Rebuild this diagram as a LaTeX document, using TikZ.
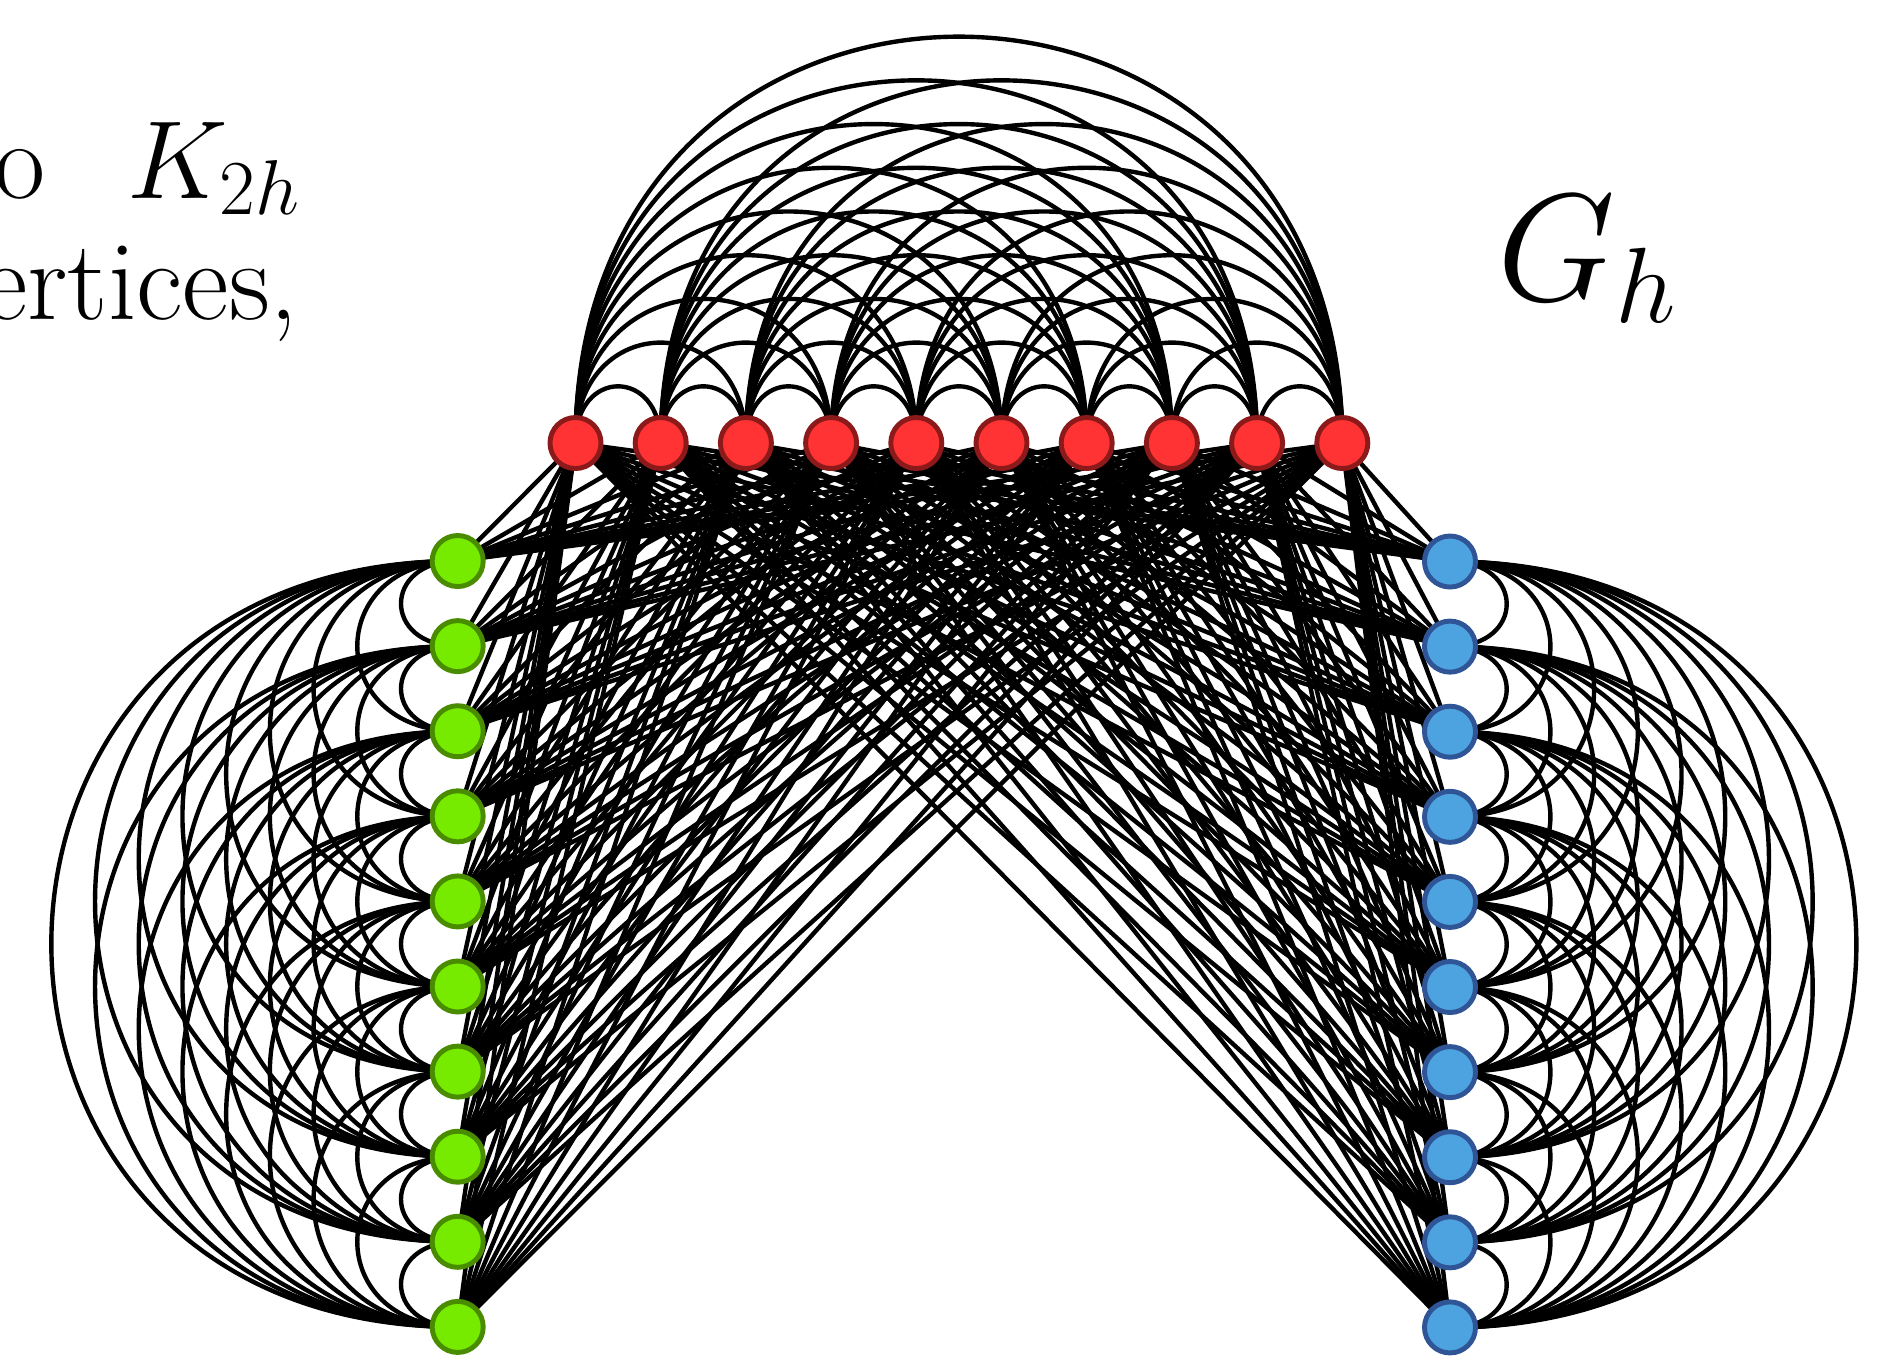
\RequirePackage{fix-cm}
\documentclass[tikz,border=0pt]{standalone}
\usepackage{xcolor}
\definecolor{vred}{RGB}{255,51,51}
\definecolor{vredbd}{RGB}{140,26,26}
\definecolor{vgreen}{RGB}{118,235,0}
\definecolor{vgreenbd}{RGB}{74,140,0}
\definecolor{vblue}{RGB}{77,163,224}
\definecolor{vbluebd}{RGB}{47,85,151}
\usetikzlibrary{backgrounds}

\begin{document}
\begin{tikzpicture}[x=0.01cm, y=-0.01cm,
      vtx/.style={circle, inner sep=0pt, minimum size=0.51cm, line width=1.4pt},
      rv/.style={vtx, draw=vredbd, fill=vred},
      gv/.style={vtx, draw=vgreenbd, fill=vgreen},
      bv/.style={vtx, draw=vbluebd, fill=vblue},
      edge/.style={line width=1.25pt, black},
      lbl/.style={inner sep=0pt, anchor=base west}
  ]
    \useasboundingbox (0,0) rectangle (1893,1356);
    \clip (0,0) rectangle (1893,1356);
    % text cut at the left border
    \node[lbl, font=\fontsize{31.6}{38}\selectfont] (ltop) at (-46,198) {to\hspace{0.74em}$K_{2h}$};
    \node[lbl, font=\fontsize{32.4}{38}\selectfont] (lbot) at (-72,319) {vertices,};
    \node[lbl, font=\fontsize{43.5}{50}\selectfont] (title) at (1497,300) {$G_h$};
    % three groups of h=10 vertices
    \foreach \i in {1,...,10}{
      \node[rv] (r\i) at ({575.5+85.2*(\i-1)},443) {};
      \node[gv] (g\i) at (457.7,{561+85.1*(\i-1)}) {};
      \node[bv] (b\i) at (1450,{561.5+85.1*(\i-1)}) {};
    }
    \begin{scope}[on background layer]
      % red to green and red to blue
      \foreach \i in {1,...,10}
        \foreach \j in {1,...,10}{
          \draw[edge] (r\i.center) -- (g\j.center);
          \draw[edge] (r\i.center) -- (b\j.center);
        }
      % a complete graph inside each group
      \foreach \i in {1,...,9}{
        \pgfmathtruncatemacro{\k}{\i+1}
        \foreach \j in {\k,...,10}{
          \pgfmathsetmacro{\c}{4/3*(13+0.513*85.2*(\j-\i))}
          \draw[edge] (r\i.center) .. controls +(0,-\c) and +(0,-\c) .. (r\j.center);
          \draw[edge] (g\i.center) .. controls +(-\c,0) and +(-\c,0) .. (g\j.center);
          \draw[edge] (b\i.center) .. controls +(\c,0) and +(\c,0) .. (b\j.center);
        }
      }
    \end{scope}
  \end{tikzpicture}
\end{document}
